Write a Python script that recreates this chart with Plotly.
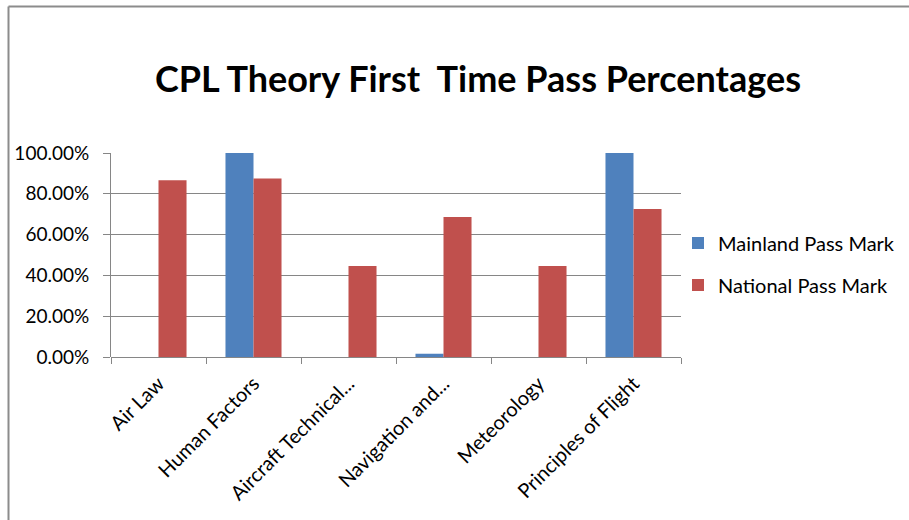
import plotly.graph_objects as go

# Subjects and first-time pass rates (fractions)
subjects = ["Air Law", "Human Factors", "Aircraft Technical...", "Navigation and...",
            "Meteorology", "Principles of Flight"]
mainland = [0.0, 1.0, 0.0, 0.016, 0.0, 1.0]
national = [0.867, 0.875, 0.446, 0.686, 0.446, 0.725]
y_ticks = [0.0, 0.2, 0.4, 0.6, 0.8, 1.0]

BLUE = "#4F81BD"
RED = "#C0504D"
GRID = "#868686"
FONT = "Lato, Carlito, Calibri, sans-serif"

fig = go.Figure()
fig.add_trace(go.Bar(name="Mainland Pass Mark", x=subjects, y=mainland,
                     marker=dict(color=BLUE, line=dict(width=0)), legendgroup="a"))
fig.add_trace(go.Bar(name="National Pass Mark", x=subjects, y=national,
                     marker=dict(color=RED, line=dict(width=0)), legendgroup="b"))

# plot area in pixels
L, R, T, B = 111, 681, 153, 357
W, H = 909, 520
pw, ph = R - L, B - T

def px_x(x):
    return (x - L) / pw

def px_y(y):
    return (B - y) / ph

fig.update_layout(
    width=W, height=H,
    margin=dict(l=L, r=W - R, t=T, b=H - B, autoexpand=False),
    paper_bgcolor="white", plot_bgcolor="white",
    barmode="group", bargap=0.41, bargroupgap=0,
    font=dict(family=FONT, color="#000000", size=19),
    title=dict(text="<b>CPL Theory First  Time Pass Percentages</b>",
               x=478 / W, xanchor="center", y=1 - 79 / H, yanchor="middle",
               font=dict(family=FONT, size=36, color="#000000")),
    legend=dict(x=px_x(678), xanchor="left", y=px_y(264), yanchor="middle",
                font=dict(family=FONT, size=20, color="#000000"),
                traceorder="grouped", tracegroupgap=13,
                bgcolor="rgba(0,0,0,0)", itemwidth=30),
    showlegend=True,
)

fig.update_xaxes(
    type="category", tickson="boundaries", ticks="outside", ticklen=6,
    tickcolor=GRID, tickangle=-45, showgrid=False, showline=False,
    zeroline=False, tickfont=dict(family=FONT, size=20),
    ticklabelstandoff=10,
)
fig.update_yaxes(
    range=[0, 1], tickvals=y_ticks, tickformat=".2%",
    showgrid=True, gridcolor=GRID, gridwidth=1,
    showline=True, linecolor=GRID, linewidth=1,
    ticks="outside", ticklen=7, tickcolor=GRID,
    zeroline=True, zerolinecolor=GRID, zerolinewidth=1,
    tickfont=dict(family=FONT, size=19), ticklabelstandoff=10,
)

# chart frame (top and left edges)
fig.add_shape(type="line", xref="paper", yref="paper",
              x0=px_x(8.5), x1=px_x(W + 5), y0=px_y(6.5), y1=px_y(6.5),
              line=dict(color="#8C8C8C", width=2))
fig.add_shape(type="line", xref="paper", yref="paper",
              x0=px_x(8.5), x1=px_x(8.5), y0=px_y(6.5), y1=px_y(H + 5),
              line=dict(color="#8C8C8C", width=2))

fig.write_html("out.html")
